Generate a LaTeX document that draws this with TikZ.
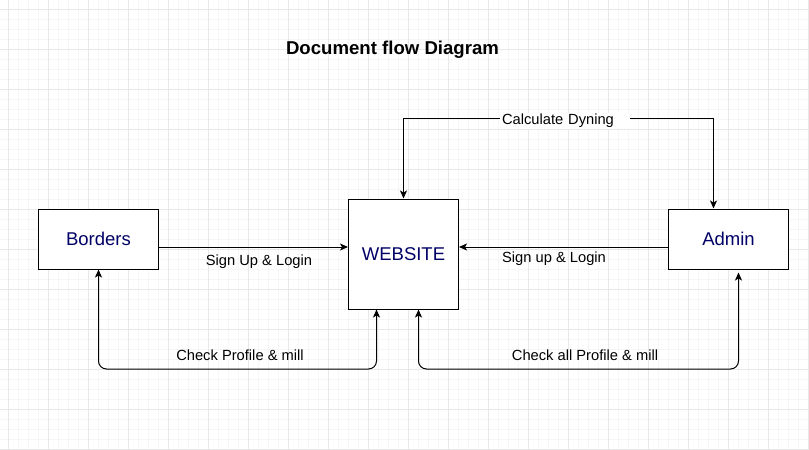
\documentclass[tikz,border=0pt]{standalone}
\usepackage{fontspec}
\setmainfont{Liberation Sans}
\usetikzlibrary{positioning,arrows.meta}
\definecolor{navytext}{RGB}{0,0,102}
\definecolor{gridmajor}{RGB}{232,232,232}
\definecolor{gridminor}{RGB}{246,246,246}

\begin{document}
\begin{tikzpicture}
  [x=1pt,y=-1pt,
   box/.style={draw=black,line width=1pt,fill=white,text=navytext,
     font=\fontsize{18.5}{20}\selectfont},
   lbl/.style={text=black,font=\fontsize{14.7}{16}\selectfont,inner sep=1pt},
   flow/.style={draw=black,line width=1pt,-{Stealth[length=8pt,width=7pt,inset=2pt]}},
   flow2/.style={draw=black,line width=1pt,
     {Stealth[length=8pt,width=7pt,inset=2pt]}-{Stealth[length=8pt,width=7pt,inset=2pt]}}]
  \useasboundingbox (0,0) rectangle (809,450);
  \fill[white] (0,0) rectangle (809,450);
  % grid
  \foreach \x in {8.3,18.3,...,809} \draw[gridminor,line width=.8pt] (\x,0) -- (\x,450);
  \foreach \y in {9.3,19.3,...,450} \draw[gridminor,line width=.8pt] (0,\y) -- (809,\y);
  \foreach \x in {8.3,48.3,...,809} \draw[gridmajor,line width=.8pt] (\x,0) -- (\x,450);
  \foreach \y in {9.3,49.3,...,450} \draw[gridmajor,line width=.8pt] (0,\y) -- (809,\y);

  \node[font=\fontsize{18.6}{20}\selectfont\bfseries] (title) at (392.5,50) {Document flow Diagram};

  \node[box,minimum width=120pt,minimum height=60pt] (borders) at (98.5,239) {Borders};
  \node[box,minimum width=110pt,minimum height=110pt] (website) at (403.5,254) {WEBSITE};
  \node[box,minimum width=120pt,minimum height=60pt] (admin) at (728.5,239) {Admin};

  \draw[flow] ([yshift=-8pt]borders.east) -- ([yshift=7pt]website.west);
  \draw[flow] ([yshift=-8pt]admin.east -| admin.west) -- ([yshift=7pt]website.east);
  \draw[flow2] (website.north) -- ++(0,-80) -| ([xshift=-15pt]admin.north);
  \draw[flow2,rounded corners=8pt] ([xshift=-27pt]website.south) |- (borders.south |- 0,369) -- (borders.south);
  \draw[flow2,rounded corners=8pt] ([xshift=15pt]website.south) |- ([xshift=10pt]admin.south |- 0,369) -- ([xshift=10pt,yshift=-3pt]admin.south);

  \node[lbl] (signup1) at (259,262) {Sign Up \& Login};
  \node[lbl] (signup2) at (554,259) {Sign up \& Login};
  \node[lbl,fill=white,text width=126pt,align=left,inner xsep=2pt] (calcdyn) at (565,121) {Calculate Dyning};
  \node[lbl] (check1) at (240,355) {Check Profile \& mill};
  \node[lbl] (check2) at (585,355) {Check all Profile \& mill};
\end{tikzpicture}
\end{document}
